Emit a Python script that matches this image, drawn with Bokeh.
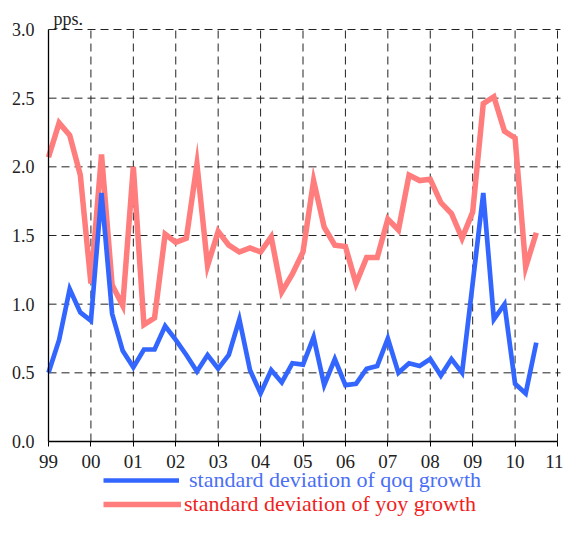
from bokeh.plotting import figure
from bokeh.models import FixedTicker, Legend, LegendItem, Label
from bokeh.embed import file_html
from bokeh.resources import INLINE

# Quarterly data, 1999Q1 .. 2010Q3
qoq_sd = [0.50, 0.74, 1.11, 0.94, 0.88, 1.81, 0.93, 0.66, 0.54, 0.67, 0.67, 0.84,
          0.74, 0.63, 0.51, 0.63, 0.53, 0.63, 0.89, 0.52, 0.35, 0.52, 0.43, 0.57,
          0.56, 0.76, 0.41, 0.60, 0.41, 0.42, 0.53, 0.55, 0.75, 0.50, 0.57, 0.55,
          0.60, 0.48, 0.60, 0.50, 1.15, 1.81, 0.89, 1.00, 0.42, 0.35, 0.72]
yoy_sd = [2.07, 2.32, 2.23, 1.94, 1.15, 2.09, 1.14, 0.99, 2.00, 0.85, 0.90, 1.51,
          1.45, 1.48, 2.02, 1.28, 1.53, 1.43, 1.38, 1.41, 1.38, 1.49, 1.09, 1.22,
          1.38, 1.90, 1.56, 1.43, 1.42, 1.15, 1.34, 1.34, 1.62, 1.54, 1.94, 1.90,
          1.91, 1.74, 1.66, 1.48, 1.67, 2.46, 2.51, 2.26, 2.21, 1.27, 1.52]
start_year = 1999
quarter_pos = [start_year + i / 4 for i in range(len(qoq_sd))]

year_ticks = list(range(1999, 2012))
year_labels = ["99", "00", "01", "02", "03", "04", "05", "06", "07", "08", "09", "10", "11"]
y_ticks = [0.0, 0.5, 1.0, 1.5, 2.0, 2.5, 3.0]
y_labels = ["0.0", "0.5", "1.0", "1.5", "2.0", "2.5", "3.0"]
y_min, y_max = 0.0, 3.0

label_qoq = "standard deviation of qoq growth"
label_yoy = "standard deviation of yoy growth"
unit_label = "pps."

FONT = "Liberation Serif"
BLUE = "#3366FF"
RED_LINE = "#FF7D7D"
GRID = "#222222"

# layout (pixels): the frame covers the whole canvas, axes are pinned inside it
W, H = 563, 518
AX_LEFT, AX_TOP, AX_W, AX_H = 48, 29, 509, 412
ppx = AX_W / (year_ticks[-1] - year_ticks[0])
ppy = AX_H / (y_max - y_min)
x_lo = year_ticks[0] - AX_LEFT / ppx
x_hi = year_ticks[0] + (W - AX_LEFT) / ppx
y_hi = y_max + AX_TOP / ppy
y_lo = y_max - (H - AX_TOP) / ppy

p = figure(width=W, height=H, output_backend="svg", toolbar_location=None,
           x_range=(x_lo, x_hi), y_range=(y_lo, y_hi), min_border=0)
p.outline_line_color = None
p.background_fill_color = "white"
p.xgrid.visible = False
p.ygrid.visible = False

# dashed grid over the value area only
p.segment(x0=year_ticks[1:], y0=[y_min] * (len(year_ticks) - 1),
          x1=year_ticks[1:], y1=[y_max] * (len(year_ticks) - 1),
          line_color=GRID, line_width=1, line_dash="8 5")
p.segment(x0=[year_ticks[0]] * (len(y_ticks) - 1), y0=y_ticks[1:],
          x1=[year_ticks[-1] + 3 / ppx] * (len(y_ticks) - 1), y1=y_ticks[1:],
          line_color=GRID, line_width=1, line_dash="8 5")

# axes pinned at the data origin
xa = p.xaxis[0]
xa.fixed_location = y_min
xa.bounds = (year_ticks[0], year_ticks[-1])
xa.ticker = FixedTicker(ticks=year_ticks)
xa.major_label_overrides = {t: l for t, l in zip(year_ticks, year_labels)}
xa.major_tick_in = 0
xa.major_tick_out = 5
xa.major_tick_line_color = "black"
xa.major_label_standoff = 8
xa.major_label_text_font_size = "19px"

ya = p.yaxis[0]
ya.fixed_location = year_ticks[0]
ya.bounds = (y_min, y_max)
ya.ticker = FixedTicker(ticks=y_ticks)
ya.major_label_overrides = {t: l for t, l in zip(y_ticks, y_labels)}
ya.major_tick_in = 0
ya.major_tick_out = 0
ya.major_tick_line_color = None
ya.major_label_standoff = 14
ya.major_label_text_font_size = "18px"

for ax in (xa, ya):
    ax.axis_line_color = "black"
    ax.axis_line_width = 1.3
    ax.minor_tick_line_color = None
    ax.major_label_text_font = FONT
    ax.major_label_text_color = "#222222"

r_yoy = p.line(quarter_pos, yoy_sd, line_color=RED_LINE, line_width=5.5, line_join="miter")
r_qoq = p.line(quarter_pos, qoq_sd, line_color=BLUE, line_width=4.7, line_join="miter")

p.add_layout(Label(x=year_ticks[0] + 5 / ppx, y=y_max + 11 / ppy, text=unit_label,
                   text_font=FONT, text_font_size="18px", text_color="#222222",
                   text_baseline="alphabetic"))


def make_legend(label, renderer, color, loc, gw, standoff):
    return Legend(items=[LegendItem(label=label, renderers=[renderer])],
                  location=loc, orientation="vertical",
                  label_text_font=FONT, label_text_font_size="22px",
                  label_text_color=color, glyph_width=gw, glyph_height=24,
                  label_height=24, label_standoff=standoff, padding=0, spacing=0,
                  margin=0, border_line_color=None, background_fill_alpha=0)


p.add_layout(make_legend(label_qoq, r_qoq, "#4A6FF5", (103, 25), 76, 10))
p.add_layout(make_legend(label_yoy, r_yoy, "#F01E1E", (103, 1), 78, 3))

open("out.html", "w").write(file_html(p, INLINE))
